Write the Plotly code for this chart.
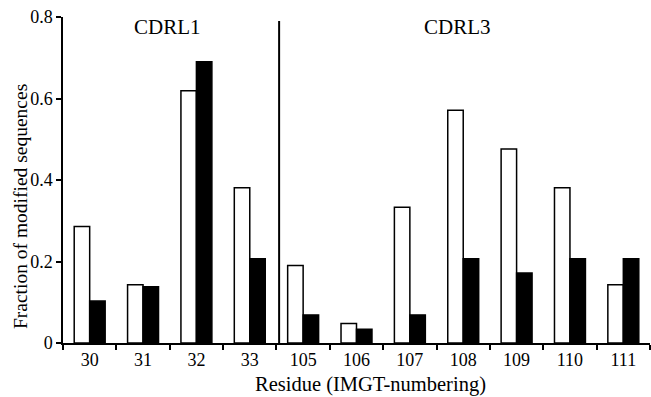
import plotly.graph_objects as go

residues = ["30", "31", "32", "33", "105", "106", "107", "108", "109", "110", "111"]
series_white = [0.286, 0.143, 0.619, 0.381, 0.190, 0.048, 0.333, 0.571, 0.476, 0.381, 0.143]
series_black = [0.103, 0.138, 0.690, 0.207, 0.069, 0.034, 0.069, 0.207, 0.172, 0.207, 0.207]
y_ticks = [0, 0.2, 0.4, 0.6, 0.8]
y_tick_labels = ["0", "0.2", "0.4", "0.6", "0.8"]
region_labels = ["CDRL1", "CDRL3"]

font = "Liberation Serif"

fig = go.Figure()
fig.add_trace(go.Bar(x=residues, y=series_white, marker=dict(color="white", line=dict(color="black", width=1.5)), showlegend=False))
fig.add_trace(go.Bar(x=residues, y=series_black, marker=dict(color="black", line=dict(color="black", width=1.5)), showlegend=False))

# separator between CDRL1 and CDRL3
fig.add_shape(type="line", xref="x", yref="y", x0=3.55, x1=3.55, y0=0, y1=0.79,
              line=dict(color="black", width=2))

fig.add_annotation(x=1.45, y=0.775, xref="x", yref="y", text=region_labels[0], showarrow=False,
                   font=dict(family=font, size=21, color="black"))
fig.add_annotation(x=6.9, y=0.775, xref="x", yref="y", text=region_labels[1], showarrow=False,
                   font=dict(family=font, size=21, color="black"))

# axis titles
fig.add_annotation(x=0.524, y=-0.126, xref="paper", yref="paper", xanchor="center", yanchor="middle",
                   text="Residue (IMGT-numbering)", showarrow=False,
                   font=dict(family=font, size=20.5, color="black"))
fig.add_annotation(x=-0.0733, y=0.42, xref="paper", yref="paper", xanchor="center", yanchor="middle",
                   text="Fraction of modified sequences", showarrow=False, textangle=-90,
                   font=dict(family=font, size=19.5, color="black"))

fig.update_layout(
    width=651, height=397,
    margin=dict(l=63, r=1, t=17, b=54),
    paper_bgcolor="white", plot_bgcolor="white",
    barmode="group", bargap=0.42, bargroupgap=0,
    font=dict(family=font, size=16, color="black"),
)
fig.update_xaxes(
    type="category", range=[-0.5, 10.5],
    showline=True, linecolor="black", linewidth=1.5,
    ticks="outside", tickson="boundaries", ticklen=5, tickcolor="black", tickwidth=1.5,
    showgrid=False, zeroline=False,
    tickfont=dict(family=font, size=18, color="black"),
)
fig.update_yaxes(
    range=[0, 0.8], tickvals=y_ticks, ticktext=y_tick_labels,
    showline=True, linecolor="black", linewidth=1.5,
    ticks="outside", ticklen=5, tickcolor="black", tickwidth=1.5,
    showgrid=False, zeroline=False,
    tickfont=dict(family=font, size=18, color="black"),
)

fig.write_html("out.html")
